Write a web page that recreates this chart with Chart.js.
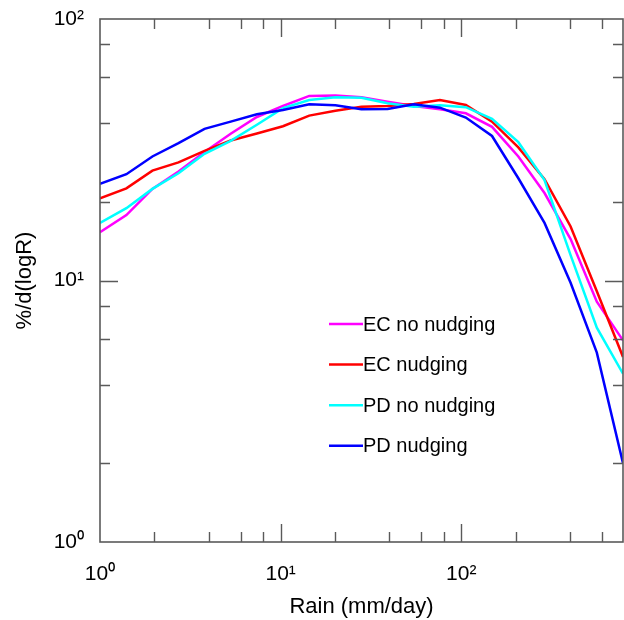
<!DOCTYPE html>
<html>
<head>
<meta charset="utf-8">
<title>Rain rate PDF</title>
<script src="https://cdn.jsdelivr.net/npm/chart.js@4/dist/chart.umd.min.js"></script>
<style>
  html, body { margin: 0; padding: 0; background: #ffffff; }
  #wrap { width: 624px; height: 620px; }
</style>
</head>
<body>
<div id="wrap"><canvas id="pdf" width="624" height="620"></canvas></div>
<script>
// Rain-rate bin centres (mm/day)
const rainBins = [1, 1.40, 1.95, 2.72, 3.79, 5.29, 7.39, 10.3, 14.4, 20.1, 28.0,
                  39.1, 54.6, 76.2, 106, 148, 207, 289, 403, 563, 786];

// Frequency per unit log(rain), in %
const ecNoNudging = [15.3, 17.8, 22.4, 26.1, 31.0, 36.4, 42.2, 46.5, 50.8, 51.0, 50.2,
                     48.3, 46.5, 45.2, 43.6, 38.7, 29.8, 21.6, 14.4, 8.3, 5.9];
const ecNudging   = [20.6, 22.5, 26.3, 28.3, 31.3, 34.3, 36.5, 38.9, 42.7, 44.6, 46.2,
                     46.5, 47.3, 49.0, 46.9, 40.5, 32.3, 24.4, 16.1, 9.1, 5.1];
const pdNoNudging = [16.6, 18.9, 22.4, 25.7, 30.5, 34.2, 39.4, 45.6, 49.0, 50.2, 50.0,
                     47.6, 46.2, 46.8, 46.0, 41.5, 33.8, 24.2, 12.5, 6.6, 4.4];
const pdNudging   = [23.4, 25.5, 29.8, 33.5, 38.0, 40.5, 43.2, 44.9, 47.2, 46.8, 45.2,
                     45.3, 47.2, 45.8, 42.0, 35.7, 24.6, 16.6, 9.8, 5.3, 2.0];

const seriesNames = ['EC no nudging', 'EC nudging', 'PD no nudging', 'PD nudging'];

// Axis ticks
const xMajorTicks = [1, 10, 100];
const xMinorTicks = [2, 4, 6, 8, 20, 40, 60, 80, 200, 400, 600];
const xTickLabels = ['10\u2070', '10\u00B9', '10\u00B2'];
const yMajorTicks = [1, 10, 100];
const yMinorTicks = [2, 4, 6, 8, 20, 40, 60, 80];
const yTickLabels = ['10\u2070', '10\u00B9', '10\u00B2'];

const FONT = "'Liberation Sans', Arial, Helvetica, sans-serif";
const FRAME = '#5a5a5a';

function toPoints(values) {
  return values.map((v, i) => ({ x: rainBins[i], y: v }));
}

const colours = ['#ff00ff', '#ff0000', '#00ffff', '#0000ff'];
const allSeries = [ecNoNudging, ecNudging, pdNoNudging, pdNudging];

const datasets = allSeries.map((vals, i) => ({
  label: seriesNames[i],
  data: toPoints(vals),
  borderColor: colours[i],
  backgroundColor: colours[i],
  borderWidth: 2.5,
  pointRadius: 0,
  tension: 0,
  fill: false,
  order: allSeries.length - i
}));

// Inward tick marks on all four sides plus the frame
const frameTicks = {
  id: 'frameTicks',
  afterDatasetsDraw(chart) {
    const { ctx, chartArea: a, scales: { x, y } } = chart;
    ctx.save();
    ctx.strokeStyle = FRAME;
    ctx.lineWidth = 1.4;
    ctx.beginPath();
    const markX = (list, len) => {
      list.forEach(v => {
        const px = Math.round(x.getPixelForValue(v)) + 0.5;
        if (px > a.left + 1 && px < a.right - 1) {
          ctx.moveTo(px, a.bottom); ctx.lineTo(px, a.bottom - len);
          ctx.moveTo(px, a.top);    ctx.lineTo(px, a.top + len);
        }
      });
    };
    const markY = (list, len) => {
      list.forEach(v => {
        const py = Math.round(y.getPixelForValue(v)) + 0.5;
        if (py > a.top + 1 && py < a.bottom - 1) {
          ctx.moveTo(a.left, py);  ctx.lineTo(a.left + len, py);
          ctx.moveTo(a.right, py); ctx.lineTo(a.right - len, py);
        }
      });
    };
    markX(xMajorTicks, 18);
    markX(xMinorTicks, 10);
    markY(yMajorTicks, 18);
    markY(yMinorTicks, 10);
    ctx.stroke();
    ctx.lineWidth = 1.6;
    ctx.strokeRect(a.left, a.top, a.right - a.left, a.bottom - a.top);
    ctx.restore();
  }
};

// Legend drawn inside the plot area
const insetLegend = {
  id: 'insetLegend',
  afterDraw(chart) {
    const { ctx, chartArea: a } = chart;
    const x0 = a.left + 229;
    const lineLen = 34;
    const y0 = a.top + 305;
    const step = 40.6;
    ctx.save();
    ctx.font = '20px ' + FONT;
    ctx.textBaseline = 'middle';
    ctx.textAlign = 'left';
    chart.data.datasets.forEach((ds, i) => {
      const yy = y0 + i * step;
      ctx.strokeStyle = ds.borderColor;
      ctx.lineWidth = 2.5;
      ctx.beginPath();
      ctx.moveTo(x0, yy);
      ctx.lineTo(x0 + lineLen, yy);
      ctx.stroke();
      ctx.fillStyle = '#000000';
      ctx.fillText(ds.label, x0 + lineLen, yy + 1);
    });
    ctx.restore();
  }
};

new Chart(document.getElementById('pdf'), {
  type: 'line',
  data: { datasets },
  plugins: [frameTicks, insetLegend],
  options: {
    responsive: false,
    animation: false,
    layout: { padding: { top: 19, right: 1, left: 0, bottom: 0 } },
    plugins: {
      legend: { display: false },
      tooltip: { enabled: false }
    },
    scales: {
      x: {
        type: 'logarithmic',
        min: 1,
        max: 786,
        afterBuildTicks: s => { s.ticks = xMajorTicks.map(v => ({ value: v, major: true })); },
        afterFit: s => { s.height = 78; s.paddingLeft = 0; s.paddingRight = 0; },
        grid: { display: false, drawTicks: false },
        border: { display: false },
        ticks: {
          autoSkip: false,
          maxRotation: 0,
          padding: 20,
          color: '#000000',
          font: { family: FONT, size: 21 },
          callback: (v, i) => xTickLabels[i]
        },
        title: {
          display: true,
          text: 'Rain (mm/day)',
          color: '#000000',
          font: { family: FONT, size: 22, lineHeight: 1 },
          padding: { top: 0, bottom: 2 }
        }
      },
      y: {
        type: 'logarithmic',
        min: 1,
        max: 100,
        afterBuildTicks: s => { s.ticks = yMajorTicks.map(v => ({ value: v, major: true })); },
        afterFit: s => { s.width = 100; s.paddingTop = 0; s.paddingBottom = 0; },
        grid: { display: false, drawTicks: false },
        border: { display: false },
        ticks: {
          autoSkip: false,
          padding: 16,
          color: '#000000',
          font: { family: FONT, size: 21 },
          callback: (v, i) => yTickLabels[i]
        },
        title: {
          display: true,
          text: '%/d(logR)',
          color: '#000000',
          font: { family: FONT, size: 22, lineHeight: 1 },
          padding: { top: 14, bottom: 0 }
        }
      }
    }
  }
});
</script>
</body>
</html>
